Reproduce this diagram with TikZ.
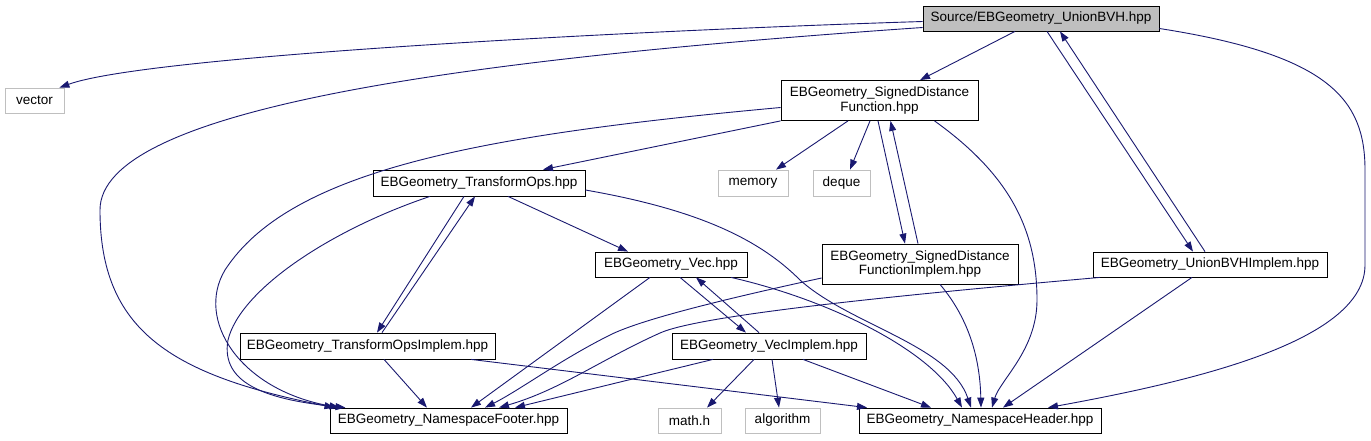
\documentclass[tikz,border=0pt]{standalone}
\usepackage{fontspec}
\setmainfont{Liberation Sans}
\usetikzlibrary{arrows.meta}
\definecolor{edgecol}{HTML}{191970}
\definecolor{graybd}{HTML}{BFBFBF}
\begin{document}
\begin{tikzpicture}[x=1pt,y=-1pt,font=\fontsize{13.5}{14.5}\selectfont,
  nbox/.style={draw=black, fill=white, line width=0.8pt, inner sep=0pt, minimum height=25pt, align=center},
  gbox/.style={nbox, draw=graybd},
  edge/.style={draw=edgecol, line width=0.9pt, -{Triangle[length=10pt,width=7pt]}}]
\path[use as bounding box, fill=white] (0,0) rectangle (1371,440);
% nodes
\node[nbox, fill=graybd, minimum width=236pt] (ubvh) at (1041,18.5) {Source/EBGeometry\_UnionBVH.hpp};
\node[gbox, minimum width=59pt] (vector) at (34.5,100.5) {vector};
\node[nbox, minimum width=197pt, minimum height=40pt] (sdf) at (879.5,100.5) {EBGeometry\_SignedDistance\\Function.hpp};
\node[gbox, minimum width=70pt, minimum height=26pt] (memory) at (753,183) {memory};
\node[gbox, minimum width=57pt, minimum height=26pt] (deque) at (841.5,183) {deque};
\node[nbox, minimum width=212pt, minimum height=26pt] (tops) at (479,183) {EBGeometry\_TransformOps.hpp};
\node[nbox, minimum width=152pt] (vec) at (671,264.5) {EBGeometry\_Vec.hpp};
\node[nbox, minimum width=196pt, minimum height=40pt] (sdfi) at (920,264) {EBGeometry\_SignedDistance\\FunctionImplem.hpp};
\node[nbox, minimum width=234pt] (ubvhi) at (1210,264.5) {EBGeometry\_UnionBVHImplem.hpp};
\node[nbox, minimum width=255pt, minimum height=26pt] (topsi) at (367.5,346) {EBGeometry\_TransformOpsImplem.hpp};
\node[nbox, minimum width=194pt, minimum height=26pt] (veci) at (769,346) {EBGeometry\_VecImplem.hpp};
\node[nbox, minimum width=237pt] (footer) at (448.5,420.5) {EBGeometry\_NamespaceFooter.hpp};
\node[gbox, minimum width=63pt] (mathh) at (689.5,420.5) {math.h};
\node[gbox, minimum width=75pt] (algo) at (782.5,420.5) {algorithm};
\node[nbox, minimum width=242pt] (header) at (980,420.5) {EBGeometry\_NamespaceHeader.hpp};
% edges from UnionBVH
\draw[edge] ([yshift=-3pt]ubvh.west) .. controls (650,30) and (150,55) .. ([xshift=-5pt]vector.north east);
\draw[edge] ([yshift=-9pt]ubvh.west) .. controls (450,60) and (100,110) .. (100,210)
  .. controls (100,330) and (170,375) .. ([xshift=-114pt]footer.north);
\draw[edge] ([xshift=-26pt]ubvh.south) -- ([xshift=40.5pt]sdf.north);
\draw[edge] ([xshift=6pt]ubvh.south) -- ([xshift=-17pt]ubvhi.north);
\draw[edge] ([xshift=-5pt]ubvhi.north) -- ([xshift=19pt]ubvh.south);
\draw[edge] ([yshift=-10pt]ubvh.east) .. controls (1330,55) and (1365,100) .. (1365,170) -- (1365,265)
  .. controls (1365,340) and (1200,380) .. ([xshift=68pt]header.north);
% edges from SignedDistanceFunction
\draw[edge] ([yshift=-7pt]sdf.west) .. controls (480,135) and (290,170) .. (225,270)
  .. controls (195,320) and (240,390) .. ([xshift=-109pt]footer.north);
\draw[edge] (sdf.south west) -- ([xshift=64pt]tops.north);
\draw[edge] ([xshift=-31.5pt]sdf.south) -- ([xshift=23pt]memory.north);
\draw[edge] ([xshift=-9.5pt]sdf.south) -- ([xshift=8.5pt]deque.north);
\draw[edge] ([xshift=-1.5pt]sdf.south) -- ([xshift=-15pt]sdfi.north);
\draw[edge] ([xshift=-2pt]sdfi.north) -- ([xshift=11pt]sdf.south);
\draw[edge] ([xshift=55pt]sdf.south) .. controls (1010,175) and (1037,230) .. (1037,300)
  .. controls (1037,350) and (1000,380) .. ([xshift=12pt]header.north);
% edges from TransformOps
\draw[edge] ([xshift=-49pt]tops.south) .. controls (330,230) and (240,290) .. (228,340)
  .. controls (220,385) and (270,400) .. ([xshift=-103pt]footer.north);
\draw[edge] ([xshift=-15pt]tops.south) -- ([xshift=9.5pt]topsi.north);
\draw[edge] ([xshift=14.5pt]topsi.north) -- ([xshift=-4pt]tops.south);
\draw[edge] ([xshift=29pt]tops.south) -- ([xshift=-43pt]vec.north);
\draw[edge] ([yshift=-7pt]tops.east) .. controls (700,210) and (760,240) .. (800,280)
  .. controls (850,325) and (950,345) .. ([xshift=-9pt]header.north);
% edges from Vec
\draw[edge] ([xshift=-21pt]vec.south) -- ([xshift=22.5pt]footer.north);
\draw[edge] ([xshift=9pt]vec.south) -- ([xshift=-23pt]veci.north);
\draw[edge] ([xshift=-10pt]veci.north) -- ([xshift=25pt]vec.south);
\draw[edge] ([xshift=60pt]vec.south) .. controls (830,300) and (930,350) .. ([xshift=-18pt]header.north);
% edges from SignedDistanceFunctionImplem
\draw[edge] ([yshift=-14pt]sdfi.west) .. controls (720,300) and (640,320) .. (610,335)
  .. controls (560,360) and (520,390) .. ([xshift=36.5pt]footer.north);
\draw[edge] ([xshift=20pt]sdfi.south) .. controls (970,320) and (980,360) .. ([xshift=1pt]header.north);
% edges from UnionBVHImplem
\draw[edge] ([xshift=-110pt]ubvhi.south) .. controls (900,295) and (700,315) .. (660,333)
  .. controls (600,360) and (560,390) .. ([xshift=50.5pt]footer.north);
\draw[edge] ([xshift=-18pt]ubvhi.south) -- ([xshift=23pt]header.north);
% edges from TransformOpsImplem
\draw[edge] ([xshift=16.5pt]topsi.south) -- ([xshift=-21.5pt]footer.north);
\draw[edge] ([xshift=103.5pt]topsi.south) -- ([xshift=-113pt]header.north);
% edges from VecImplem
\draw[edge] ([xshift=-56pt]veci.south) -- ([xshift=66.5pt]footer.north);
\draw[edge] ([xshift=-15pt]veci.south) -- ([xshift=17.5pt]mathh.north);
\draw[edge] ([xshift=3pt]veci.south) -- ([xshift=-3.5pt]algo.north);
\draw[edge] ([xshift=34pt]veci.south) -- ([xshift=-49pt]header.north);
\end{tikzpicture}
\end{document}
